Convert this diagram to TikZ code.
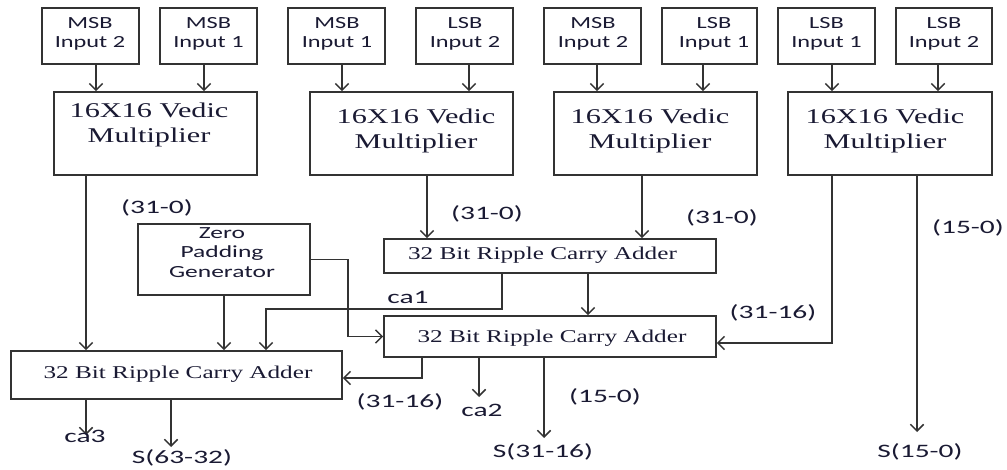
\documentclass[tikz,border=0pt]{standalone}
\usepackage{fontspec}
\setmainfont{Liberation Serif}
\newfontfamily\calfont{Carlito}
\usepackage{graphicx}
\usetikzlibrary{arrows.meta,calc}
\definecolor{lncol}{HTML}{333333}
\definecolor{txcol}{HTML}{1A1A33}
\newcommand\hsx[2]{\scalebox{#1}[1]{#2}}
\begin{document}
\begin{tikzpicture}[x=0.75pt,y=-0.75pt,
  box/.style={draw=lncol, line width=1.3pt, fill=white, inner sep=0pt},
  sz/.style 2 args={minimum width=#1*0.75pt, minimum height=#2*0.75pt},
  arr/.style={draw=lncol, line width=1.3pt, -{Straight Barb[length=5pt,width=10pt,line width=1.1pt]}},
  wire/.style={draw=lncol, line width=1.3pt},
  intext/.style={text=txcol, font=\calfont\fontsize{12.75}{14.5}\selectfont, align=center, inner sep=0pt},
  lbl/.style={text=txcol, font=\calfont\fontsize{14.25}{16}\selectfont, inner sep=0pt},
  mtext/.style={text=txcol, font=\fontsize{15.75}{18.75}\selectfont, align=center, inner sep=0pt},
  rtext/.style={text=txcol, font=\fontsize{13.5}{16}\selectfont, inner sep=0pt}
]
\fill[white] (0,0) rectangle (1007,470);
\useasboundingbox (0,0) rectangle (1007,470);

% input boxes
\node[box, sz={97}{56}] (in1) at (90.5,36) {};
\node[box, sz={97}{56}] (in2) at (208.5,36) {};
\node[box, sz={97}{56}] (in3) at (336.5,36) {};
\node[box, sz={97}{56}] (in4) at (464.5,36) {};
\node[box, sz={97}{56}] (in5) at (592.5,36) {};
\node[box, sz={95}{56}] (in6) at (709.5,36) {};
\node[box, sz={97}{56}] (in7) at (826.5,36) {};
\node[box, sz={96}{56}] (in8) at (944,36) {};
\node[intext] (tin1) at (90,34) {\hsx{1.43}{MSB}\\\hsx{1.43}{Input 2}};
\node[intext] (tin2) at (208.5,34) {\hsx{1.43}{MSB}\\\hsx{1.43}{Input 1}};
\node[intext] (tin3) at (337,34) {\hsx{1.43}{MSB}\\\hsx{1.43}{Input 1}};
\node[intext] (tin4) at (465,34) {\hsx{1.43}{LSB}\\\hsx{1.43}{Input 2}};
\node[intext] (tin5) at (593,34) {\hsx{1.43}{MSB}\\\hsx{1.43}{Input 2}};
\node[intext] (tin6) at (714,34) {\hsx{1.43}{LSB}\\\hsx{1.43}{Input 1}};
\node[intext] (tin7) at (826.5,34) {\hsx{1.43}{LSB}\\\hsx{1.43}{Input 1}};
\node[intext] (tin8) at (944,34) {\hsx{1.43}{LSB}\\\hsx{1.43}{Input 2}};

% multipliers
\node[box, sz={203}{83}] (m1) at (155.5,133.5) {};
\node[box, sz={203}{83}] (m2) at (411.5,133.5) {};
\node[box, sz={203}{83}] (m3) at (655.5,133.5) {};
\node[box, sz={204}{83}] (m4) at (890,133.5) {};
\node[mtext] (tm1) at (149,124.5) {\hsx{1.44}{16X16 Vedic}\\\hsx{1.44}{Multiplier}};
\node[mtext] (tm2) at (416,131) {\hsx{1.44}{16X16 Vedic}\\\hsx{1.44}{Multiplier}};
\node[mtext] (tm3) at (650,131) {\hsx{1.44}{16X16 Vedic}\\\hsx{1.44}{Multiplier}};
\node[mtext] (tm4) at (885,131) {\hsx{1.44}{16X16 Vedic}\\\hsx{1.44}{Multiplier}};

% zero padding generator
\node[box, sz={172}{71}] (zpg) at (224,259.5) {};
\node[intext] (tzpg) at (222,252.5) {\hsx{1.5}{Zero}\\\hsx{1.5}{Padding}\\\hsx{1.5}{Generator}};

% adders
\node[box, sz={332}{34}] (rca1) at (550,256) {};
\node[box, sz={332}{41}] (rca2) at (550,336.5) {};
\node[box, sz={331}{48}] (rca3) at (176.5,375) {};
\node[rtext] (trca1) at (542.5,255) {\hsx{1.4}{32 Bit Ripple Carry Adder}};
\node[rtext] (trca2) at (552,338) {\hsx{1.4}{32 Bit Ripple Carry Adder}};
\node[rtext] (trca3) at (178,374) {\hsx{1.4}{32 Bit Ripple Carry Adder}};

% free ends
\coordinate (e150) at (917,432);
\coordinate (eca2) at (479,397);
\coordinate (es3116) at (544,438);
\coordinate (eca3) at (86,435);
\coordinate (es6332) at (171,447);

% input arrows
\draw[arr] ($(in1.south)+(5.5,0)$) coordinate (a1) -- (a1 |- m1.north);
\draw[arr] ($(in2.south)+(-4.5,0)$) coordinate (a2) -- (a2 |- m1.north);
\draw[arr] ($(in3.south)+(5.5,0)$) coordinate (a3) -- (a3 |- m2.north);
\draw[arr] ($(in4.south)+(4.5,0)$) coordinate (a4) -- (a4 |- m2.north);
\draw[arr] ($(in5.south)+(4.5,0)$) coordinate (a5) -- (a5 |- m3.north);
\draw[arr] ($(in6.south)+(-6.5,0)$) coordinate (a6) -- (a6 |- m3.north);
\draw[arr] ($(in7.south)+(5.5,0)$) coordinate (a7) -- (a7 |- m4.north);
\draw[arr] ($(in8.south)+(-6,0)$) coordinate (a8) -- (a8 |- m4.north);

% multiplier outputs
\draw[arr] ($(m1.south)+(-69.5,0)$) coordinate (b1) -- (b1 |- rca3.north);
\draw[arr] ($(m2.south)+(15.5,0)$) coordinate (b2) -- (b2 |- rca1.north);
\draw[arr] ($(m3.south)+(-13.5,0)$) coordinate (b3) -- (b3 |- rca1.north);
\draw[arr] ($(m4.south)+(-58,0)$) |- ($(rca2.east)+(0,6.5)$);
\draw[arr] ($(m4.south)+(27,0)$) coordinate (b5) -- (b5 |- e150);

% zero padding outputs
\draw[arr] (zpg.south) -- (zpg.south |- rca3.north);
\draw[arr] (zpg.east) -- ++(37,0) |- (rca2.west);

% adder 1 outputs
\draw[arr] ($(rca1.south)+(-48,0)$) -- ++(0,35) -| ($(rca3.north)+(89.5,0)$);
\draw[arr] ($(rca1.south)+(38,0)$) coordinate (c2) -- (c2 |- rca2.north);

% adder 2 outputs
\draw[arr] ($(rca2.south)+(-128,0)$) |- ($(rca3.east)+(0,3)$);
\draw[arr] ($(rca2.south)+(-71,0)$) coordinate (d2) -- (d2 |- eca2);
\draw[arr] ($(rca2.south)+(-6,0)$) coordinate (d3) -- (d3 |- es3116);

% adder 3 outputs
\draw[arr] ($(rca3.south)+(-90.5,0)$) coordinate (f1) -- (f1 |- eca3);
\draw[arr] ($(rca3.south)+(-5.5,0)$) coordinate (f2) -- (f2 |- es6332);

% labels
\node[lbl] (l1) at (157,208) {\hsx{1.55}{(31-0)}};
\node[lbl] (l2) at (487,214) {\hsx{1.55}{(31-0)}};
\node[lbl] (l3) at (722,218) {\hsx{1.55}{(31-0)}};
\node[lbl] (l4) at (968,228) {\hsx{1.55}{(15-0)}};
\node[lbl] (l5) at (408,297) {\hsx{1.55}{ca1}};
\node[lbl] (l6) at (773,313) {\hsx{1.55}{(31-16)}};
\node[lbl] (l7) at (400,402) {\hsx{1.55}{(31-16)}};
\node[lbl] (l8) at (482,410) {\hsx{1.55}{ca2}};
\node[lbl] (l9) at (605,397) {\hsx{1.55}{(15-0)}};
\node[lbl] (l10) at (85,436) {\hsx{1.55}{ca3}};
\node[lbl] (l11) at (182,458) {\hsx{1.55}{S(63-32)}};
\node[lbl] (l12) at (543,452) {\hsx{1.55}{S(31-16)}};
\node[lbl] (l13) at (920,452) {\hsx{1.55}{S(15-0)}};
\end{tikzpicture}
\end{document}
